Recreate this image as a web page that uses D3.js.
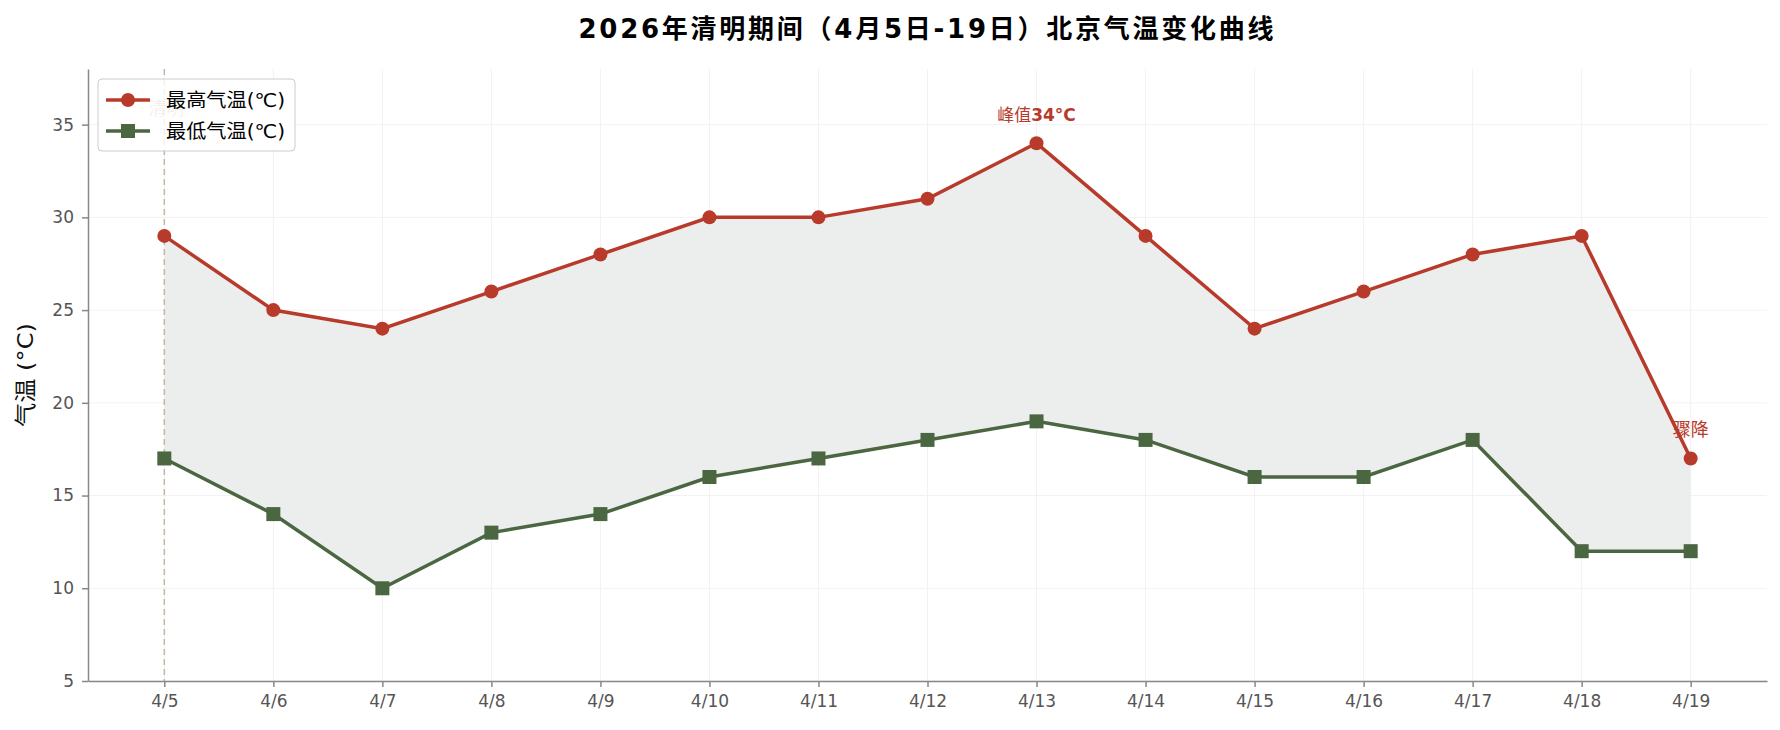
<!DOCTYPE html>
<html>
<head>
<meta charset="utf-8">
<script src="https://cdn.jsdelivr.net/npm/d3@7"></script>
<style>
  body { margin: 0; background: #fff; }
  svg text { font-family: "DejaVu Sans", "Noto Sans CJK SC", sans-serif; }
</style>
</head>
<body>
<div id="chart"></div>
<script>
// data
var dates = ["4/5","4/6","4/7","4/8","4/9","4/10","4/11","4/12","4/13","4/14","4/15","4/16","4/17","4/18","4/19"];
var highTemp = [29,25,24,26,28,30,30,31,34,29,24,26,28,29,17];
var lowTemp  = [17,14,10,13,14,16,17,18,19,18,16,16,18,12,12];
var yTicks = [5,10,15,20,25,30,35];

var W = 1780, H = 730;
var margin = {top: 69, right: 13, bottom: 49, left: 88},
    width = W - margin.left - margin.right,
    height = H - margin.top - margin.bottom;

var red = "#b83a2b", green = "#4a6741";

var svg = d3.select("#chart").append("svg")
    .attr("width", W)
    .attr("height", H);

var g = svg.append("g")
    .attr("transform", "translate(" + margin.left + "," + margin.top + ")");

// index scale with matplotlib-like 5% padding
var x = d3.scaleLinear()
    .domain([-0.7, dates.length - 1 + 0.7])
    .range([0, width]);

var y = d3.scaleLinear()
    .domain([5, 38])
    .range([height, 0]);

// grid
g.append("g").selectAll("line.gy")
  .data(yTicks)
  .enter().append("line")
    .attr("x1", 0).attr("x2", width)
    .attr("y1", function(d) { return y(d); })
    .attr("y2", function(d) { return y(d); })
    .attr("stroke", "#f2f2f2")
    .attr("stroke-width", 1);

g.append("g").selectAll("line.gx")
  .data(dates)
  .enter().append("line")
    .attr("x1", function(d, i) { return x(i); })
    .attr("x2", function(d, i) { return x(i); })
    .attr("y1", 0).attr("y2", height)
    .attr("stroke", "#f2f2f2")
    .attr("stroke-width", 1);

// band between high and low
var area = d3.area()
    .x(function(d, i) { return x(i); })
    .y0(function(d, i) { return y(lowTemp[i]); })
    .y1(function(d) { return y(d); });

g.append("path")
    .datum(highTemp)
    .attr("d", area)
    .attr("fill", "#eceeed");

// qingming marker
g.append("line")
    .attr("x1", x(0)).attr("x2", x(0))
    .attr("y1", 0).attr("y2", height)
    .attr("stroke", "#c2b7a2")
    .attr("stroke-width", 1.5)
    .attr("stroke-dasharray", "6,4");

g.append("text")
    .attr("x", x(0) + 2)
    .attr("y", 46)
    .attr("text-anchor", "middle")
    .attr("fill", "#c4baa8")
    .style("font-size", "18px")
    .text("清明");

// lines
var line = d3.line()
    .x(function(d, i) { return x(i); })
    .y(function(d) { return y(d); });

g.append("path")
    .datum(highTemp)
    .attr("d", line)
    .attr("fill", "none")
    .attr("stroke", red)
    .attr("stroke-width", 3.5);

g.append("path")
    .datum(lowTemp)
    .attr("d", line)
    .attr("fill", "none")
    .attr("stroke", green)
    .attr("stroke-width", 3.5);

g.selectAll("circle.hi")
  .data(highTemp)
  .enter().append("circle")
    .attr("cx", function(d, i) { return x(i); })
    .attr("cy", function(d) { return y(d); })
    .attr("r", 7)
    .attr("fill", red);

g.selectAll("rect.lo")
  .data(lowTemp)
  .enter().append("rect")
    .attr("x", function(d, i) { return x(i) - 7; })
    .attr("y", function(d) { return y(d) - 7; })
    .attr("width", 14)
    .attr("height", 14)
    .attr("fill", green);

// annotations
var peakIdx = highTemp.indexOf(d3.max(highTemp));
var peak = g.append("text")
    .attr("x", x(peakIdx))
    .attr("y", y(highTemp[peakIdx]) - 22)
    .attr("text-anchor", "middle")
    .attr("fill", red)
    .style("font-size", "17px");
peak.append("tspan").text("峰值");
peak.append("tspan").style("font-weight", "bold").text(highTemp[peakIdx] + "°C");

var last = dates.length - 1;
g.append("text")
    .attr("x", x(last))
    .attr("y", y(highTemp[last]) - 22)
    .attr("text-anchor", "middle")
    .attr("fill", red)
    .style("font-size", "18px")
    .text("骤降");

// axes
var xAxis = d3.axisBottom(x)
    .tickValues(d3.range(dates.length))
    .tickFormat(function(i) { return dates[i]; })
    .tickSize(6).tickSizeOuter(0).tickPadding(8);

var yAxis = d3.axisLeft(y)
    .tickValues(yTicks)
    .tickSize(6).tickSizeOuter(0).tickPadding(8);

var gx = g.append("g")
    .attr("transform", "translate(0," + height + ")")
    .call(xAxis);
var gy = g.append("g").call(yAxis);

[gx, gy].forEach(function(a) {
  a.select(".domain").attr("stroke", "#888").attr("stroke-width", 1.5);
  a.selectAll(".tick line").attr("stroke", "#888").attr("stroke-width", 1.5);
  a.selectAll(".tick text")
    .attr("fill", "#555")
    .style("font-size", "17px")
    .style("font-family", "'DejaVu Sans', sans-serif");
});

// y label
svg.append("text")
    .attr("transform", "translate(33," + (margin.top + height / 2) + ") rotate(-90)")
    .attr("text-anchor", "middle")
    .attr("fill", "#111")
    .attr("textLength", 104)
    .attr("lengthAdjust", "spacingAndGlyphs")
    .style("font-size", "22px")
    .text("气温 (°C)");

// title
svg.append("text")
    .attr("x", 926)
    .attr("y", 38)
    .attr("text-anchor", "middle")
    .attr("fill", "#000")
    .attr("textLength", 695)
    .attr("lengthAdjust", "spacing")
    .style("font-size", "26px")
    .style("font-weight", "bold")
    .text("2026年清明期间（4月5日-19日）北京气温变化曲线");

// legend
var leg = g.append("g").attr("transform", "translate(10,10)");
leg.append("rect")
    .attr("width", 197).attr("height", 72)
    .attr("rx", 4)
    .attr("fill", "#fff").attr("fill-opacity", 0.8)
    .attr("stroke", "#ccc");

var legItems = [
  {name: "最高气温(℃)", color: red, shape: "circle"},
  {name: "最低气温(℃)", color: green, shape: "square"}
];

legItems.forEach(function(d, i) {
  var ly = 21 + i * 31;
  var row = leg.append("g").attr("transform", "translate(0," + ly + ")");
  row.append("line")
      .attr("x1", 8).attr("x2", 52)
      .attr("stroke", d.color).attr("stroke-width", 3.5);
  if (d.shape === "circle") {
    row.append("circle").attr("cx", 30).attr("r", 7).attr("fill", d.color);
  } else {
    row.append("rect").attr("x", 23).attr("y", -7).attr("width", 14).attr("height", 14).attr("fill", d.color);
  }
  row.append("text")
      .attr("x", 68)
      .attr("dy", "0.35em")
      .attr("fill", "#000")
      .attr("textLength", 119)
      .attr("lengthAdjust", "spacingAndGlyphs")
      .style("font-size", "19px")
      .text(d.name);
});
</script>
</body>
</html>
